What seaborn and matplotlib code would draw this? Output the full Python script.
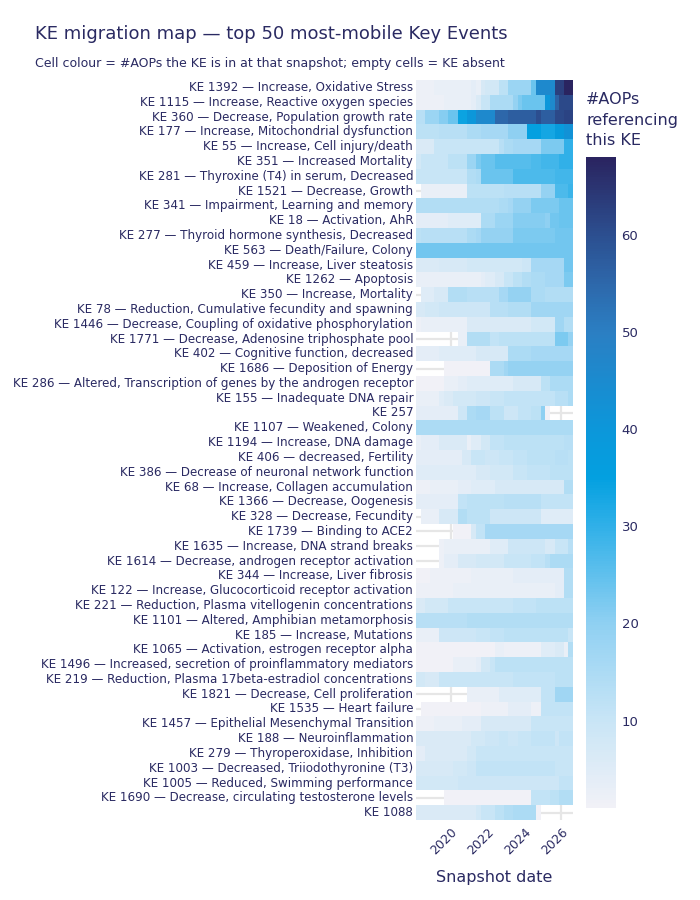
import numpy as np
import pandas as pd
import matplotlib
matplotlib.use("Agg")
import matplotlib.pyplot as plt
import seaborn as sns
from matplotlib.colors import LinearSegmentedColormap

N = np.nan

snapshot_dates = [
    "2018-04-01", "2018-07-01", "2018-10-01",
    "2019-01-01", "2019-04-01", "2019-07-01", "2019-10-01",
    "2020-01-01", "2020-04-01", "2020-07-01", "2020-10-01",
    "2021-01-01", "2021-04-01", "2021-07-01", "2021-10-01",
    "2022-01-01", "2022-04-01", "2022-07-01", "2022-10-01",
    "2023-01-01", "2023-04-01", "2023-07-01", "2023-10-01",
    "2024-01-01", "2024-04-01", "2024-07-01", "2024-10-01",
    "2025-01-01", "2025-04-01", "2025-07-01", "2025-10-01",
    "2026-01-01", "2026-04-01", "2026-07-01",
]

ke_labels = [
    "KE 1392 — Increase, Oxidative Stress",
    "KE 1115 — Increase, Reactive oxygen species",
    "KE 360 — Decrease, Population growth rate",
    "KE 177 — Increase, Mitochondrial dysfunction",
    "KE 55 — Increase, Cell injury/death",
    "KE 351 — Increased Mortality",
    "KE 281 — Thyroxine (T4) in serum, Decreased",
    "KE 1521 — Decrease, Growth",
    "KE 341 — Impairment, Learning and memory",
    "KE 18 — Activation, AhR",
    "KE 277 — Thyroid hormone synthesis, Decreased",
    "KE 563 — Death/Failure, Colony",
    "KE 459 — Increase, Liver steatosis",
    "KE 1262 — Apoptosis",
    "KE 350 — Increase, Mortality",
    "KE 78 — Reduction, Cumulative fecundity and spawning",
    "KE 1446 — Decrease, Coupling of oxidative phosphorylation",
    "KE 1771 — Decrease, Adenosine triphosphate pool",
    "KE 402 — Cognitive function, decreased",
    "KE 1686 — Deposition of Energy",
    "KE 286 — Altered, Transcription of genes by the androgen receptor",
    "KE 155 — Inadequate DNA repair",
    "KE 257",
    "KE 1107 — Weakened, Colony",
    "KE 1194 — Increase, DNA damage",
    "KE 406 — decreased, Fertility",
    "KE 386 — Decrease of neuronal network function",
    "KE 68 — Increase, Collagen accumulation",
    "KE 1366 — Decrease, Oogenesis",
    "KE 328 — Decrease, Fecundity",
    "KE 1739 — Binding to ACE2",
    "KE 1635 — Increase, DNA strand breaks",
    "KE 1614 — Decrease, androgen receptor activation",
    "KE 344 — Increase, Liver fibrosis",
    "KE 122 — Increase, Glucocorticoid receptor activation",
    "KE 221 — Reduction, Plasma vitellogenin concentrations",
    "KE 1101 — Altered, Amphibian metamorphosis",
    "KE 185 — Increase, Mutations",
    "KE 1065 — Activation, estrogen receptor alpha",
    "KE 1496 — Increased, secretion of proinflammatory mediators",
    "KE 219 — Reduction, Plasma 17beta-estradiol concentrations",
    "KE 1821 — Decrease, Cell proliferation",
    "KE 1535 — Heart failure",
    "KE 1457 — Epithelial Mesenchymal Transition",
    "KE 188 — Neuroinflammation",
    "KE 279 — Thyroperoxidase, Inhibition",
    "KE 1003 — Decreased, Triiodothyronine (T3)",
    "KE 1005 — Reduced, Swimming performance",
    "KE 1690 — Decrease, circulating testosterone levels",
    "KE 1088",
]

# number of AOPs referencing each KE at each snapshot (NaN = KE absent)
aop_counts = [
    [2,2,2,2,3,3,3,3,3,3,3,3,4,3,7,8,8,8,12,12,18,18,18,18,18,24,46,46,46,46,63,63,68,68],
    [2,2,2,2,2,2,3,3,3,3,3,3,4,6,10,10,15,15,15,15,15,19,22,24,24,24,24,24,40,46,56,61,61,61],
    [13,13,18,18,18,21,21,24,24,34,34,40,40,46,46,46,46,55,55,55,57,57,57,57,57,57,60,57,57,57,61,61,62,62],
    [12,12,12,12,12,13,13,13,13,13,13,15,15,15,16,16,16,16,16,16,20,20,20,20,35,35,35,33,33,33,38,38,42,42],
    [6,6,6,6,10,10,10,10,10,10,10,10,10,10,10,10,10,10,13,15,15,16,16,16,16,16,16,22,22,22,22,22,30,30],
    [8,10,10,10,10,10,10,12,12,12,12,18,18,22,24,24,24,26,26,26,26,26,26,26,26,27,27,28,28,28,28,30,30,30],
    [10,10,10,10,10,10,10,10,10,10,10,14,14,15,24,24,24,24,24,24,24,27,27,27,27,27,27,27,27,27,28,28,28,28],
    [N,3,3,3,3,3,3,3,3,3,3,12,12,12,12,12,12,12,12,13,13,13,13,13,13,13,13,19,19,19,27,27,27,29],
    [14,14,14,14,14,14,14,14,14,14,14,14,14,14,14,14,14,14,15,15,16,19,19,19,19,22,22,22,22,22,22,24,24,24],
    [4,4,4,4,4,4,4,5,5,5,5,5,5,5,15,15,15,18,18,18,18,21,21,21,21,21,21,21,20,23,23,24,24,24],
    [12,13,13,13,13,13,13,13,13,13,13,15,15,16,19,19,19,19,19,19,19,22,22,22,22,22,22,22,22,22,23,23,23,23],
    [23,23,23,23,23,23,23,23,23,23,23,23,23,23,23,23,23,23,23,23,23,23,23,23,23,23,23,23,23,23,23,23,23,23],
    [6,6,6,6,6,7,7,7,7,7,7,8,8,8,8,8,8,8,8,8,8,8,8,9,9,16,16,16,16,16,16,16,23,23],
    [3,3,3,3,3,3,3,3,3,3,3,3,3,3,4,5,5,7,7,10,10,12,12,14,14,15,15,15,16,16,16,16,22,22],
    [N,5,5,5,7,7,7,14,14,14,14,13,13,13,13,13,13,13,16,16,19,19,19,19,19,15,15,15,14,14,14,14,14,14],
    [7,7,8,8,8,9,9,9,9,9,9,9,9,9,9,9,13,13,13,13,14,14,14,14,14,17,17,17,17,17,17,17,17,17],
    [2,3,3,3,3,3,3,3,3,3,3,6,6,6,6,6,6,6,6,6,6,6,6,6,6,8,8,8,8,8,17,17,14,14],
    [N,N,N,N,N,N,N,N,N,3,3,14,14,14,14,14,11,11,12,12,12,12,12,12,12,12,12,12,12,12,22,22,22,19],
    [4,4,4,4,4,5,5,5,5,5,5,5,5,7,7,7,7,7,7,7,15,15,15,15,15,16,16,16,16,16,16,16,16,16],
    [N,N,N,N,N,N,1,1,1,1,1,1,1,1,1,1,15,15,15,17,19,19,19,19,19,19,19,19,19,19,19,19,19,19],
    [1,1,1,1,1,1,3,3,3,4,4,5,5,5,5,5,5,5,5,5,5,7,7,7,7,7,7,12,12,15,15,15,15,15],
    [3,3,3,3,3,5,6,6,8,8,8,8,8,9,9,9,10,10,10,11,11,11,11,11,11,11,11,11,11,11,13,13,13,15],
    [4,4,4,4,4,4,4,4,4,9,9,15,15,16,16,16,12,12,12,9,9,9,11,11,11,12,12,20,1,N,N,N,N,N],
    [15,15,15,15,15,15,15,15,15,15,15,15,15,15,15,15,15,15,15,15,15,15,15,15,15,15,15,15,15,15,15,15,15,15],
    [3,4,4,4,4,6,6,6,6,6,6,3,5,5,8,8,11,11,11,12,12,12,12,12,12,12,12,12,12,12,12,12,13,13],
    [4,4,4,4,4,4,4,4,4,4,7,7,10,10,10,9,9,9,10,10,10,11,11,11,12,12,12,12,12,12,13,13,13,12],
    [5,5,5,5,5,5,5,5,5,5,5,5,5,7,7,7,8,8,8,8,8,10,10,10,11,11,11,11,11,12,12,12,12,12],
    [2,2,2,3,3,3,3,3,3,4,4,4,5,5,5,5,5,7,7,7,7,7,7,7,7,7,7,7,7,7,7,7,14,14],
    [4,4,4,4,4,4,4,4,4,11,11,12,12,12,12,12,12,12,12,13,13,13,13,13,13,13,13,11,11,11,11,11,11,11],
    [N,3,3,3,3,7,7,7,7,14,14,12,12,12,12,12,9,9,9,9,9,9,9,9,9,9,9,5,5,5,5,5,5,5],
    [N,N,N,N,N,N,N,N,1,1,1,1,7,11,11,16,16,16,16,16,16,16,16,16,16,16,16,16,16,16,16,16,16,16],
    [N,N,N,N,N,2,3,3,3,3,3,3,3,3,3,3,5,5,5,5,9,9,9,9,9,9,9,9,7,7,10,10,10,13],
    [N,N,N,N,N,2,4,4,4,7,7,7,7,8,8,8,8,8,8,10,10,10,10,10,10,11,11,11,13,15,15,15,15,15],
    [1,1,1,2,2,2,2,2,2,2,2,2,3,3,3,3,3,3,3,3,3,4,4,4,4,4,4,4,4,4,4,4,14,14],
    [2,2,2,2,2,2,2,2,3,3,3,3,3,3,3,3,3,3,3,3,3,3,3,3,3,3,3,3,3,3,4,4,14,14],
    [6,6,8,8,8,8,8,10,10,10,10,10,10,10,10,10,10,10,10,10,10,11,11,11,11,11,12,12,12,12,12,12,12,12],
    [13,13,13,13,13,13,13,13,13,13,13,14,14,14,14,14,14,14,14,14,14,14,14,14,14,14,14,14,14,14,14,14,14,14],
    [3,3,3,3,3,9,9,9,9,9,9,9,9,10,10,10,11,11,11,12,12,12,12,12,12,12,12,12,12,12,12,12,12,10],
    [1,1,1,1,1,1,1,1,1,1,1,1,1,1,1,1,1,3,3,2,2,2,2,2,2,2,2,5,5,5,6,6,3,14],
    [1,1,1,1,1,1,1,1,3,3,3,3,3,4,8,8,10,12,12,12,12,12,12,12,12,12,12,12,12,12,12,12,12,12],
    [8,8,7,7,7,10,10,10,10,10,10,10,10,10,10,10,10,10,10,10,10,11,11,11,11,11,11,11,11,11,12,12,12,12],
    [N,N,N,N,N,N,N,N,N,N,N,3,3,3,3,3,3,3,5,5,5,5,5,5,5,5,5,11,11,11,17,17,17,17],
    [N,1,1,1,1,1,1,1,1,1,1,1,1,1,2,2,2,2,2,2,4,4,4,4,4,2,2,11,11,11,11,11,11,11],
    [2,2,2,2,3,3,3,3,3,3,4,4,4,4,7,7,7,7,7,7,7,7,7,7,7,10,10,10,10,10,10,10,10,10],
    [6,6,6,6,6,6,6,6,6,6,6,6,8,8,8,9,9,9,10,10,9,9,10,10,10,11,11,11,11,11,9,11,11,11],
    [4,4,6,6,6,6,6,6,6,6,6,8,8,10,10,10,10,10,10,10,10,10,10,10,10,10,10,10,10,10,10,10,10,10],
    [7,7,7,7,7,7,7,7,8,8,8,9,9,11,11,11,11,11,11,11,11,11,11,11,11,11,11,11,11,11,10,10,10,10],
    [8,8,8,8,8,8,8,8,8,9,9,9,9,9,9,9,9,9,9,9,9,9,9,9,9,9,9,9,9,9,9,11,11,11],
    [N,N,N,N,N,N,1,1,1,1,1,1,1,1,1,1,1,1,1,1,1,1,1,1,1,11,11,11,11,12,12,14,14,14],
    [6,6,6,6,6,6,6,6,6,6,6,6,6,8,10,10,10,12,12,14,14,15,15,15,15,15,1,N,N,N,N,N,N,N],
]

tick_years = [2020, 2022, 2024, 2026]
cbar_ticks = [10, 20, 30, 40, 50, 60]
z_min, z_max = 1, 68

# colour scale (value -> colour)
scale_values = [1, 10, 20, 30, 35, 40, 45, 50, 55, 60, 64, 68]
scale_colors = ["#f1f1f7", "#c8e5f6", "#8fd0f2", "#30b0e8", "#03a0e0", "#0c97da",
                "#1b8bcf", "#2b7fc3", "#2d68ab", "#2c4f90", "#2b3a78", "#2a2460"]

TEXT = "#2a2a62"
GRID = "#e6e6e6"

plt.rcParams["font.family"] = ["DejaVu Sans"]

cmap = LinearSegmentedColormap.from_list(
    "ke", [((v - z_min) / (z_max - z_min), c) for v, c in zip(scale_values, scale_colors)])

dates = pd.to_datetime(snapshot_dates)
df = pd.DataFrame(aop_counts, index=ke_labels, columns=dates.strftime("%Y-%m-%d"), dtype=float)

fig = plt.figure(figsize=(7, 9), dpi=100)
ax = fig.add_axes([416 / 700, 1 - 820 / 900, 157 / 700, 740 / 900])
cax = fig.add_axes([586 / 700, 1 - 808 / 900, 30 / 700, 651 / 900])

sns.heatmap(df, ax=ax, cbar_ax=cax, cmap=cmap, vmin=z_min, vmax=z_max,
            xticklabels=False, yticklabels=True,
            cbar_kws={"ticks": cbar_ticks})

# x ticks at Jan 1 of tick years, placed via the column index scale
date_num = dates.values.astype("int64").astype(float)
col_centres = np.arange(len(dates)) + 0.5
tick_pos = [np.interp(pd.Timestamp(f"{y}-01-01").value, date_num, col_centres) for y in tick_years]
ax.set_xticks(tick_pos)
ax.set_xticklabels([str(y) for y in tick_years], rotation=45, ha="right",
                   rotation_mode="anchor", fontsize=9, color=TEXT)
ax.set_yticklabels(ke_labels, fontsize=8.6, color=TEXT)
ax.tick_params(axis="both", length=0, pad=2)
ax.tick_params(axis="x", pad=4)
ax.set_facecolor("white")
ax.set_axisbelow(True)
ax.grid(True, color=GRID, linewidth=1.6)
ax.set_xlabel("Snapshot date", fontsize=11.5, color=TEXT, labelpad=9)
ax.set_ylabel("")

cbar = ax.collections[0].colorbar
cbar.outline.set_visible(False)
cax.tick_params(length=0, labelsize=9.5, labelcolor=TEXT, pad=4)

fig.text(35 / 700, 1 - 34 / 900, "KE migration map — top 50 most-mobile Key Events",
         fontsize=13, color=TEXT, va="center", ha="left")
fig.text(35 / 700, 1 - 63 / 900,
         "Cell colour = #AOPs the KE is in at that snapshot; empty cells = KE absent",
         fontsize=9.0, color=TEXT, va="center", ha="left")
fig.text(586 / 700, 1 - 92 / 900, "#AOPs\nreferencing\nthis KE",
         fontsize=11.5, color=TEXT, va="top", ha="left", linespacing=1.46)

fig.savefig("out.png", dpi=100, facecolor="white")
